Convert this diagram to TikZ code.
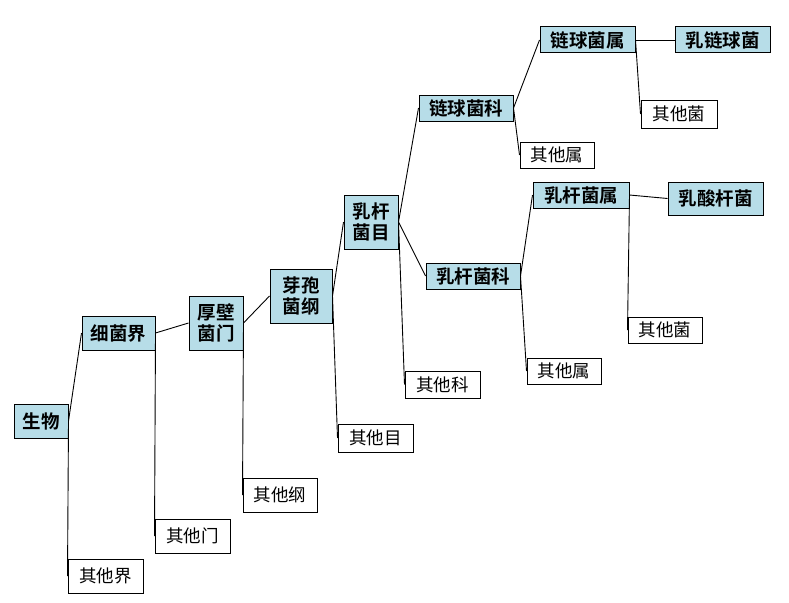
\documentclass[tikz,border=0pt]{standalone}
\usepackage{fontspec}
\newfontfamily\cjk{Noto Sans CJK SC}
\newfontfamily\cjkb{Noto Sans CJK SC Bold}
\definecolor{boxblue}{RGB}{183,221,232}
\tikzset{
  taxon/.style={draw=black, line width=1pt, fill=boxblue, inner sep=0pt, align=center,
    font=\cjkb\fontsize{18.5pt}{21pt}\selectfont},
  other/.style={draw=black, line width=1pt, fill=white, inner sep=0pt, align=center,
    font=\cjk\fontsize{17.5pt}{20pt}\selectfont},
  link/.style={draw=black, line width=0.9pt}
}
\begin{document}
\begin{tikzpicture}[x=1pt,y=-1pt]
\useasboundingbox[fill=white] (0,0) rectangle (789,602);
% blue taxon boxes
\node[taxon, minimum width=54pt, minimum height=34pt] (s1) at (41,421) {生物};
\node[taxon, minimum width=73pt, minimum height=34pt] (s2) at (118.5,333) {细菌界};
\node[taxon, minimum width=54pt, minimum height=54pt] (s3) at (216,323) {厚壁\\菌门};
\node[taxon, minimum width=62pt, minimum height=54pt] (s4) at (301,296) {芽孢\\菌纲};
\node[taxon, minimum width=54pt, minimum height=54pt] (s5) at (371,222) {乳杆\\菌目};
\node[taxon, minimum width=94pt, minimum height=26pt] (s6) at (466,108) {链球菌科};
\node[taxon, minimum width=94pt, minimum height=26pt] (s7) at (473,276) {乳杆菌科};
\node[taxon, minimum width=95pt, minimum height=26pt] (s8) at (587.5,40) {链球菌属};
\node[taxon, minimum width=95pt, minimum height=26pt] (s9) at (722.5,40) {乳链球菌};
\node[taxon, minimum width=96pt, minimum height=26pt] (s10) at (581,195) {乳杆菌属};
\node[taxon, minimum width=95pt, minimum height=33pt] (s11) at (715.5,198.5) {乳酸杆菌};
% white boxes
\node[other, minimum width=75pt, minimum height=34pt] (o1) at (105.5,576) {其他界};
\node[other, minimum width=75pt, minimum height=34pt] (o2) at (192.5,536) {其他门};
\node[other, minimum width=74pt, minimum height=34pt] (o3) at (280,495) {其他纲};
\node[other, minimum width=75pt, minimum height=28pt] (o4) at (375.5,438) {其他目};
\node[other, minimum width=75pt, minimum height=27pt] (o5) at (442.5,384.5) {其他科};
\node[other, minimum width=74pt, minimum height=26pt] (o6) at (557,155) {其他属};
\node[other, minimum width=76pt, minimum height=28pt] (o7) at (679,114) {其他菌};
\node[other, minimum width=74pt, minimum height=26pt] (o8) at (564,371) {其他属};
\node[other, minimum width=74pt, minimum height=26pt] (o9) at (665,330) {其他菌};
% connectors
\draw[link] (s1.east) -- (s2.west);
\draw[link] (s1.east) -- (o1.west);
\draw[link] (s2.east) -- (s3.west);
\draw[link] (s2.east) -- (o2.west);
\draw[link] (s3.east) -- (s4.west);
\draw[link] (s3.east) -- (o3.west);
\draw[link] (s4.east) -- (s5.west);
\draw[link] (s4.east) -- (o4.west);
\draw[link] (s5.east) -- (s6.west);
\draw[link] (s5.east) -- (s7.west);
\draw[link] (s5.east) -- (o5.west);
\draw[link] (s6.east) -- (s8.west);
\draw[link] (s6.east) -- (o6.west);
\draw[link] (s7.east) -- (s10.west);
\draw[link] (s7.east) -- (o8.west);
\draw[link] (s8.east) -- (s9.west);
\draw[link] (s8.east) -- (o7.west);
\draw[link] (s10.east) -- (s11.west);
\draw[link] (s10.east) -- (o9.west);
\end{tikzpicture}
\end{document}
